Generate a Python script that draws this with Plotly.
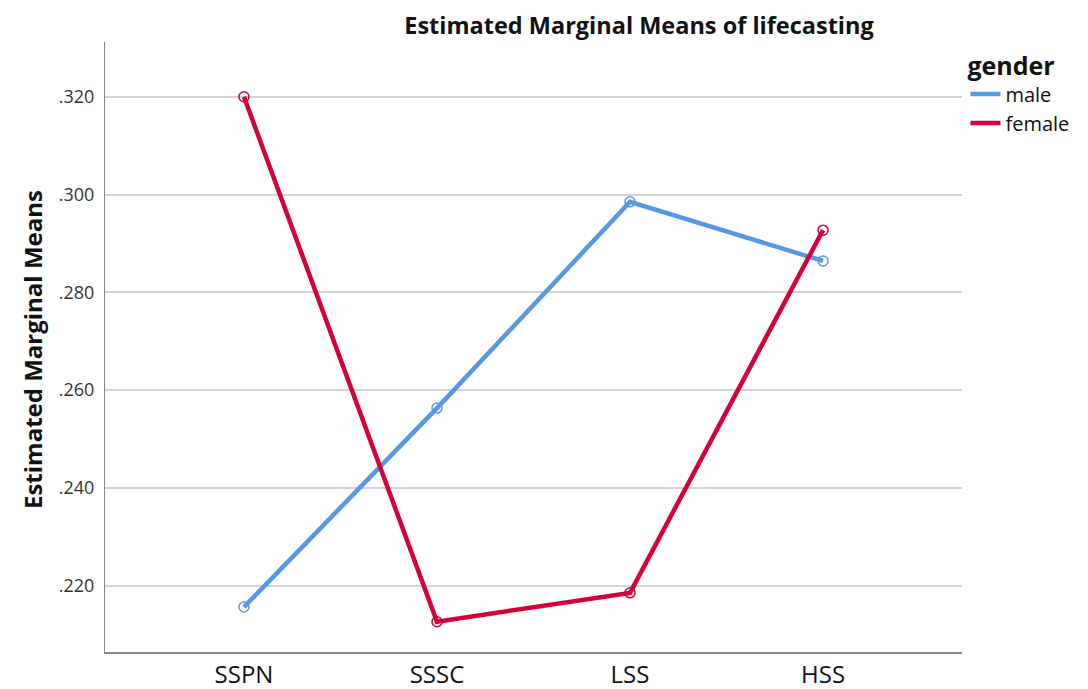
import plotly.graph_objects as go

categories = ["SSPN", "SSSC", "LSS", "HSS"]
male = [0.2156, 0.2563, 0.2985, 0.2864]
female = [0.3200, 0.2126, 0.2185, 0.2927]
y_ticks = [0.220, 0.240, 0.260, 0.280, 0.300, 0.320]
y_tick_labels = [".220", ".240", ".260", ".280", ".300", ".320"]

FONT = "Open Sans"
BLUE = "#5697E6"
RED = "#D5003A"

W, H = 1080, 681  # page has an 8px body margin

fig = go.Figure()
for name, vals, col in [("male", male, BLUE), ("female", female, RED)]:
    fig.add_trace(go.Scatter(
        x=categories, y=vals, name=name, mode="lines+markers", showlegend=False,
        line=dict(color=col, width=4.5),
        marker=dict(symbol="circle-open", size=10, color=col, line=dict(width=1.5)),
    ))
    # legend entry drawn as line only (as in the reference)
    fig.add_trace(go.Scatter(
        x=[None], y=[None], name=name, mode="lines", showlegend=True,
        line=dict(color=col, width=4.5),
    ))

fig.add_annotation(
    text="<b>Estimated Marginal Means</b>", textangle=-90,
    xref="paper", yref="paper", x=(24 - 97) / 857, y=0.495,
    xanchor="center", yanchor="middle", showarrow=False,
    font=dict(size=24, family=FONT, color="#111111"),
)

fig.update_layout(
    width=W, height=H,
    margin=dict(l=97, r=126, t=34, b=37),
    paper_bgcolor="white", plot_bgcolor="white",
    font=dict(family=FONT, color="#111111"),
    title=dict(text="<b>Estimated Marginal Means of lifecasting</b>",
               x=631 / W, xanchor="center", xref="container",
               y=1 - 18 / H, yanchor="middle", yref="container",
               font=dict(size=23.5, family=FONT, color="#111111")),
    showlegend=True,
    legend=dict(
        title=dict(text="<b>gender</b>", font=dict(size=25, family=FONT)),
        x=1.004, xanchor="left", y=1.0, yanchor="top",
        font=dict(size=20, family=FONT, color="#111111"),
        bgcolor="rgba(0,0,0,0)", tracegroupgap=0, itemwidth=30,
    ),
    xaxis=dict(
        type="category", range=[-0.72, 3.72], automargin=False,
        showgrid=False, zeroline=False,
        showline=True, linecolor="#888888", linewidth=2,
        ticks="", tickfont=dict(size=24, family=FONT, color="#111111"),
    ),
    yaxis=dict(
        range=[0.2064, 0.3312], automargin=False,
        tickvals=y_ticks, ticktext=y_tick_labels,
        showgrid=True, gridcolor="#D3D3D3", gridwidth=1.5,
        zeroline=False, showline=True, linecolor="#888888", linewidth=1,
        ticks="", ticklabelstandoff=6,
        tickfont=dict(size=18, family=FONT, color="#333333"),
    ),
)

fig.write_html("out.html")
